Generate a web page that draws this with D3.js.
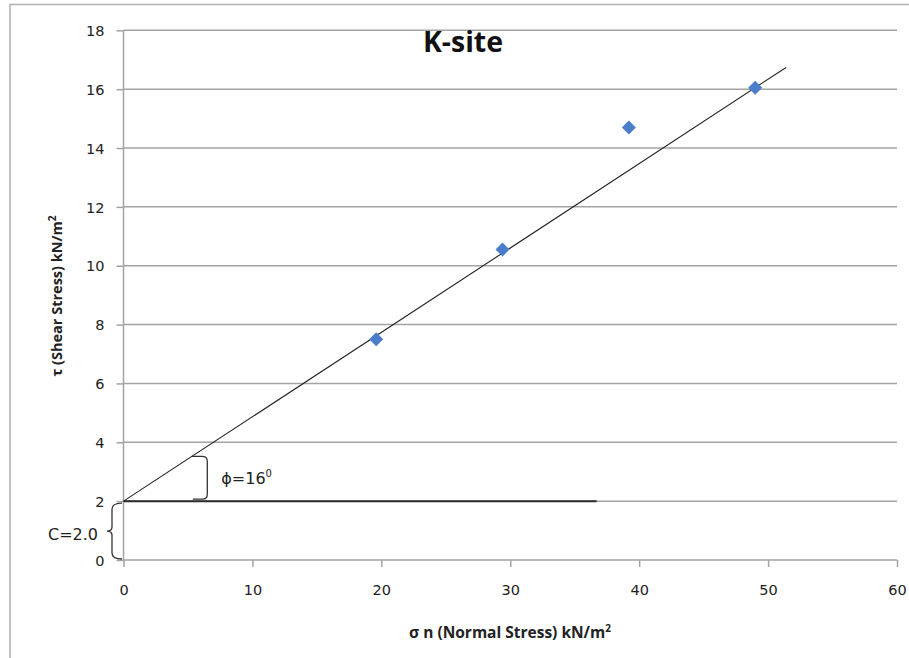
<!DOCTYPE html>
<html>
<head>
<meta charset="utf-8">
<script src="https://cdn.jsdelivr.net/npm/d3@7"></script>
<style>
  html, body { margin: 0; padding: 0; background: #fff; }
  svg { display: block; }
</style>
</head>
<body>
<svg id="chart" width="909" height="658"></svg>
<script>
// Direct shear test results, K-site
const normalStress = [19.6, 29.4, 39.2, 49.0];   // σn, kN/m²
const shearStress  = [7.5, 10.55, 14.7, 16.05];  // τ, kN/m²
const xTicks = [0, 10, 20, 30, 40, 50, 60];
const yTicks = [0, 2, 4, 6, 8, 10, 12, 14, 16, 18];
const cohesion = 2.0;       // C, kN/m²
const frictionAngle = 16;   // φ, degrees
const fitEndX = 51.4;
const cLineEndX = 36.7;

const svg = d3.select("#chart");
const W = 909, H = 658;
const plotLeft = 123.5, plotRight = 897, plotTop = 30.3, plotBottom = 560;

const x = d3.scaleLinear().domain([0, 60]).range([plotLeft, plotRight]);
const y = d3.scaleLinear().domain([0, 18]).range([plotBottom, plotTop]);

const tickFont = "'DejaVu Sans', Verdana, sans-serif";
const titleFont = "'Open Sans', 'Noto Sans', sans-serif";
const grey = "#a3a3a3";

// outer frame
svg.append("rect")
  .attr("x", 10).attr("y", 4.5)
  .attr("width", W).attr("height", H)
  .attr("fill", "none").attr("stroke", "#b0b0b0").attr("stroke-width", 1.5);

// horizontal gridlines
svg.append("g").selectAll("line").data(yTicks.filter(d => d > 0)).join("line")
  .attr("x1", plotLeft).attr("x2", plotRight)
  .attr("y1", d => y(d)).attr("y2", d => y(d))
  .attr("stroke", grey).attr("stroke-width", 1.5);

// y axis
const yAxis = svg.append("g")
  .attr("transform", `translate(${plotLeft},0)`)
  .call(d3.axisLeft(y).tickValues(yTicks).tickSize(7).tickPadding(12).tickFormat(d3.format("d")));
yAxis.select(".domain").attr("stroke", grey).attr("stroke-width", 1.5)
  .attr("d", `M0,${plotTop}V${plotBottom}`);
yAxis.selectAll(".tick line").attr("stroke", grey).attr("stroke-width", 1.5);
yAxis.selectAll(".tick text")
  .attr("font-family", tickFont).attr("font-size", 14.5).attr("fill", "#222")
  .attr("dy", "0.36em");

// x axis
const xAxis = svg.append("g")
  .attr("transform", `translate(0,${plotBottom})`)
  .call(d3.axisBottom(x).tickValues(xTicks).tickSize(7).tickPadding(18).tickFormat(d3.format("d")));
xAxis.select(".domain").attr("stroke", grey).attr("stroke-width", 1.5)
  .attr("d", `M${plotLeft},0H${plotRight}`);
xAxis.selectAll(".tick line").attr("stroke", grey).attr("stroke-width", 1.5);
xAxis.selectAll(".tick text")
  .attr("font-family", tickFont).attr("font-size", 14.5).attr("fill", "#222");

// cohesion line
svg.append("line")
  .attr("x1", x(0)).attr("x2", x(cLineEndX))
  .attr("y1", y(cohesion)).attr("y2", y(cohesion))
  .attr("stroke", "#2a2a2a").attr("stroke-width", 2);

// failure envelope τ = C + σn·tanφ
const tanPhi = Math.tan(frictionAngle * Math.PI / 180);
const envelope = [0, fitEndX].map(s => [s, cohesion + s * tanPhi]);
svg.append("path")
  .attr("d", d3.line().x(d => x(d[0])).y(d => y(d[1]))(envelope))
  .attr("stroke", "#222").attr("stroke-width", 1.1).attr("fill", "none");

// test points (diamonds)
const diamond = d3.symbol().type(d3.symbolSquare).size(98);
svg.append("g").selectAll("path").data(normalStress).join("path")
  .attr("d", diamond)
  .attr("transform", (d, i) => `translate(${x(d)},${y(shearStress[i])}) rotate(45)`)
  .attr("fill", "#4a7ecb");

// φ bracket
const bTopX = 5.3, bRightX = 6.5;
const bx0 = x(bTopX), bx1 = x(bRightX);
const by0 = y(cohesion + bTopX * tanPhi), by1 = y(cohesion) - 2;
const r = 5;
svg.append("path")
  .attr("d", `M${bx0},${by0} L${bx1 - r},${by0} Q${bx1},${by0} ${bx1},${by0 + r} L${bx1},${by1 - r} Q${bx1},${by1} ${bx1 - r},${by1} L${bx0 + 1},${by1}`)
  .attr("fill", "none").attr("stroke", "#333").attr("stroke-width", 1.3);

const phiLabel = svg.append("text")
  .attr("x", bx1 + 14).attr("y", (by0 + by1) / 2 + 6)
  .attr("font-family", tickFont).attr("font-size", 16).attr("fill", "#222");
phiLabel.append("tspan").text("ϕ=16");
phiLabel.append("tspan").attr("font-size", 10).attr("dy", -7).text("0");

// C brace
const cx1 = x(0) - 1.5, cxv = cx1 - 10, cxm = cxv - 5;
const cy0 = y(cohesion) + 2, cy1 = y(0) - 1, cym = (cy0 + cy1) / 2;
svg.append("path")
  .attr("d", `M${cx1},${cy0} Q${cxv},${cy0} ${cxv},${cy0 + 6} L${cxv},${cym - 4} Q${cxv},${cym} ${cxm},${cym} Q${cxv},${cym} ${cxv},${cym + 4} L${cxv},${cy1 - 6} Q${cxv},${cy1} ${cx1},${cy1}`)
  .attr("fill", "none").attr("stroke", "#333").attr("stroke-width", 1.3);
svg.append("text")
  .attr("x", cxm - 9).attr("y", cym + 9)
  .attr("text-anchor", "end")
  .attr("font-family", tickFont).attr("font-size", 16).attr("fill", "#222")
  .text("C=2.0");

// title
svg.append("text")
  .attr("x", 463).attr("y", 52)
  .attr("text-anchor", "middle")
  .attr("font-family", titleFont).attr("font-weight", "bold").attr("font-size", 28.5).attr("fill", "#111")
  .text("K-site");

// x axis title
const xt = svg.append("text")
  .attr("x", 510).attr("y", 638)
  .attr("text-anchor", "middle")
  .attr("font-family", titleFont).attr("font-weight", "bold").attr("font-size", 15.5).attr("fill", "#222");
xt.append("tspan").text("σ n (Normal Stress) kN/m");
xt.append("tspan").attr("font-size", 10).attr("dy", -6).text("2");

// y axis title
const yt = svg.append("text")
  .attr("transform", "translate(62,296) rotate(-90)")
  .attr("text-anchor", "middle")
  .attr("font-family", titleFont).attr("font-weight", "bold").attr("font-size", 14.5).attr("fill", "#222");
yt.append("tspan").text("τ (Shear Stress) kN/m");
yt.append("tspan").attr("font-size", 10).attr("dy", -6).text("2");
</script>
</body>
</html>
